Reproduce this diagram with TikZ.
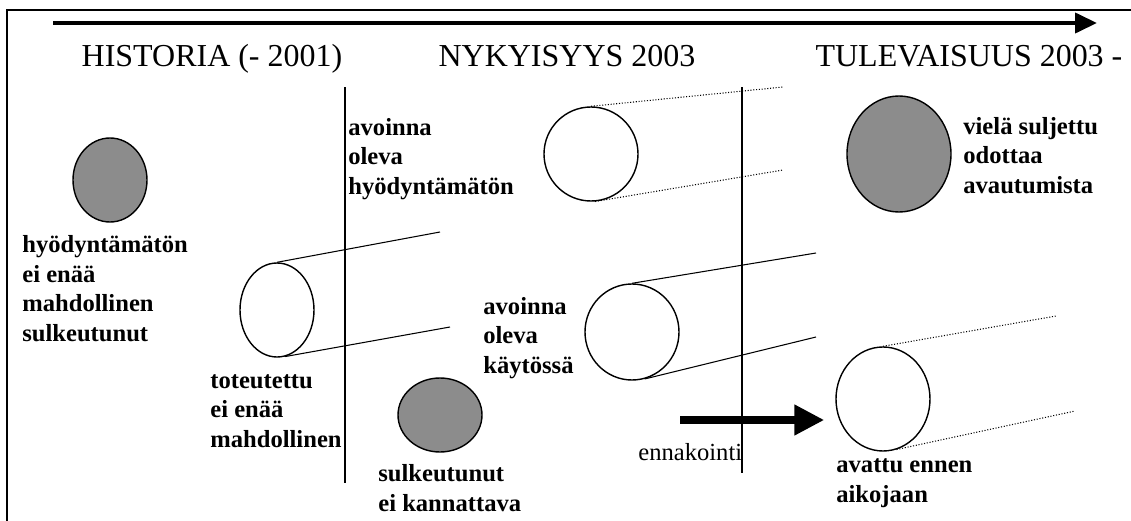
\documentclass[tikz,border=0pt]{standalone}
\usepackage{fontspec}
\setmainfont{Liberation Serif}
\usetikzlibrary{shapes.geometric,arrows.meta}
\definecolor{shutgray}{gray}{0.55}

\begin{document}
\begin{tikzpicture}[
        era/.style={font=\fontsize{18.2}{22}\selectfont, anchor=base, inner sep=0pt},
        lbl/.style={font=\bfseries\fontsize{14}{16.7}\selectfont, align=left, anchor=base west, inner sep=0pt},
        hole/.style={ellipse, draw, line width=0.8pt, fill=white, inner sep=0pt},
        shut/.style={hole, fill=shutgray},
        tube/.style={line width=0.6pt},
        future/.style={densely dotted, line width=0.6pt},
        timeline/.style={-{Triangle[length=0.44cm,width=0.4cm]}, line width=2.3pt},
        bigarrow/.style={-{Triangle[length=0.6cm,width=0.58cm]}, line width=4.8pt, shorten >=0.22cm}
    ]
        \useasboundingbox (0,0) rectangle (22.62,-10.42);

        % frame and time axis
        \draw[line width=0.8pt] (22.62,-0.2) -- (0.14,-0.2) -- (0.14,-10.42);
        \coordinate (t0) at (1.06,-0.46);
        \coordinate (t1) at (21.94,-0.46);
        \draw[timeline] (t0) -- (t1);

        \node[era] (hist) at (4.24,-1.33) {HISTORIA (- 2001)};
        \node[era] (now) at (11.34,-1.33) {NYKYISYYS 2003};
        \node[era] (fut) at (19.38,-1.33) {TULEVAISUUS 2003 -};

        % borders between the eras
        \draw[line width=0.8pt] (6.9,-1.74) -- (6.9,-9.66);
        \draw[line width=0.8pt] (14.84,-1.74) -- (14.84,-9.46);

        % history (labels sit on their last line)
        \node[shut, minimum width=1.48cm, minimum height=1.68cm] (oldshut) at (2.2,-3.6) {};
        \node[lbl] (oldshuttxt) at (0.44,-6.82) {hyödyntämätön\\ei enää\\mahdollinen\\sulkeutunut};

        \node[hole, minimum width=1.48cm, minimum height=1.88cm] (done) at (5.54,-6.2) {};
        \coordinate (done1) at (8.8,-4.64);
        \coordinate (done2) at (9.0,-6.54);
        \draw[tube] (done.north) -- (done1);
        \draw[tube] (done.-80) -- (done2);
        \node[lbl] (donetxt) at (4.2,-8.94) {toteutettu\\ei enää\\mahdollinen};

        % present
        \node[hole, minimum width=1.88cm, minimum height=1.88cm] (idle) at (11.82,-3.08) {};
        \coordinate (idle1) at (15.66,-1.74);
        \coordinate (idle2) at (15.66,-3.4);
        \draw[future] (idle.north) -- (idle1);
        \draw[future] (idle.-85) -- (idle2);
        \node[lbl] (idletxt) at (6.96,-3.88) {avoinna\\oleva\\hyödyntämätön};

        \node[hole, minimum width=1.88cm, minimum height=1.92cm] (used) at (12.64,-6.64) {};
        \coordinate (used1) at (16.32,-5.06);
        \coordinate (used2) at (16.32,-6.74);
        \draw[tube] (used.north) -- (used1);
        \draw[tube] (used.-75) -- (used2);
        \node[lbl] (usedtxt) at (9.66,-7.46) {avoinna\\oleva\\käytössä};

        \node[shut, minimum width=1.68cm, minimum height=1.48cm] (dead) at (8.8,-8.3) {};
        \node[lbl] (deadtxt) at (7.56,-10.22) {sulkeutunut\\ei kannattava};

        % future
        \node[shut, minimum width=2.08cm, minimum height=2.32cm] (waits) at (17.98,-3.08) {};
        \node[lbl] (waitstxt) at (19.26,-3.86) {vielä suljettu\\odottaa\\avautumista};

        \node[hole, minimum width=1.88cm, minimum height=2.08cm] (early) at (17.66,-7.98) {};
        \coordinate (early1) at (21.12,-6.32);
        \coordinate (early2) at (21.5,-8.22);
        \draw[future] (early.north) -- (early1);
        \draw[future] (early.-75) -- (early2);
        \node[lbl] (earlytxt) at (16.72,-10.04) {avattu ennen\\aikojaan};

        % forecasting
        \coordinate (fore) at (13.6,-8.4);
        \draw[bigarrow] (fore) -- (fore -| early.west);
        \node[anchor=base west, inner sep=0pt, font=\fontsize{14}{16}\selectfont] (foretxt) at (12.76,-9.2) {ennakointi};
    \end{tikzpicture}
\end{document}
